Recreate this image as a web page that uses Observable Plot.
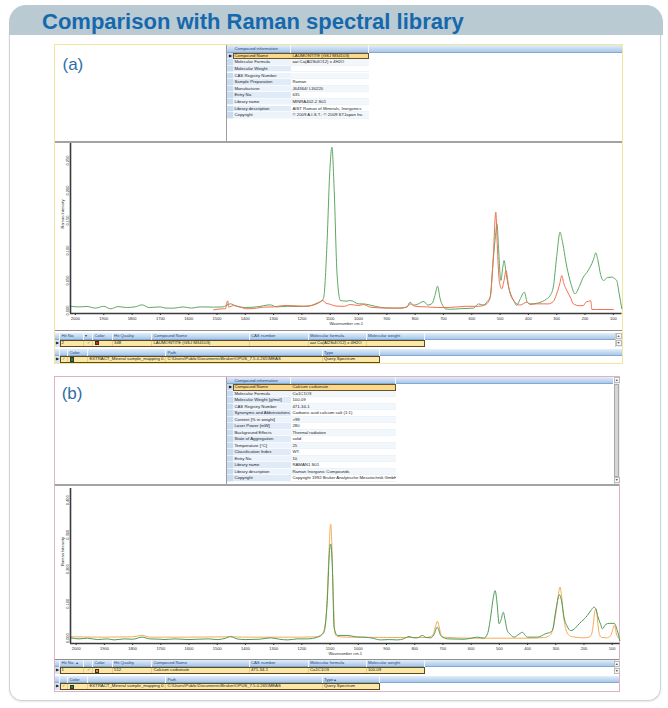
<!DOCTYPE html>
<html><head><meta charset="utf-8">
<script src="https://cdn.jsdelivr.net/npm/d3@7"></script>
<script src="https://cdn.jsdelivr.net/npm/@observablehq/plot@0.6"></script>
<style>
html,body{margin:0;padding:0;background:#fff;}
body{width:668px;height:708px;position:relative;overflow:hidden;font-family:"Liberation Sans",Arial,sans-serif;}
</style></head><body>
<script>
// ---------------- DATA ----------------
const title = "Comparison with Raman spectral library";
const xTicks = [2000,1900,1800,1700,1600,1500,1400,1300,1200,1100,1000,900,800,700,600,500,400,300,200,100];
const yTicksA = [0,0.05,0.10,0.15,0.20,0.25];
const yTicksB = [0,0.1,0.2,0.3,0.4];
const xLabel = "Wavenumber cm-1";
const yLabel = "Raman Intensity";

// (a) query spectrum (green) vs library hit LAUMONTITE (red)  [wavenumber, intensity]
const greenA = [[2018,0.0072],[1990,0.006],[1959,0.0067],[1930,0.004],[1900,0.007],[1876,0.0028],[1850,0.0065],[1820,0.005],[1790,0.006],[1765,0.0094],[1740,0.005],[1700,0.006],[1680,0.004],[1653,0.0039],[1620,0.006],[1590,0.004],[1560,0.006],[1512,0.0056],[1480,0.006],[1453,0.0111],[1430,0.007],[1400,0.005],[1360,0.006],[1312,0.0094],[1290,0.006],[1250,0.007],[1217,0.0067],[1180,0.007],[1147,0.0122],[1130,0.016],[1123,0.0222],[1111,0.1167],[1102,0.2278],[1094,0.2722],[1086,0.2],[1076,0.0611],[1064,0.0167],[1041,0.0156],[1029,0.0167],[1000,0.0111],[982,0.011],[959,0.009],[920,0.005],[880,0.004],[850,0.004],[829,0.006],[818,0.0139],[806,0.009],[794,0.01],[770,0.015],[755,0.009],[740,0.012],[730,0.025],[721,0.0406],[712,0.02],[700,0.006],[694,0.0028],[676,0.002],[640,0.003],[594,0.004],[576,0.011],[560,0.009],[545,0.015],[535,0.0222],[525,0.08],[515,0.13],[511,0.1444],[505,0.10],[500,0.06],[497,0.05],[491,0.07],[486,0.0833],[478,0.06],[464,0.0278],[450,0.015],[441,0.0083],[430,0.018],[414,0.0306],[405,0.015],[394,0.0111],[370,0.012],[350,0.015],[335,0.0194],[323,0.025],[312,0.0389],[300,0.09],[288,0.1306],[282,0.12],[264,0.0722],[250,0.045],[235,0.0278],[220,0.04],[206,0.0556],[194,0.063],[182,0.0722],[170,0.085],[162,0.0961],[155,0.085],[145,0.06],[135,0.05],[120,0.055],[105,0.0556],[95,0.053],[88,0.05],[80,0.03],[70,0.0028]];
const redA = [[1512,0.0011],[1480,0.0028],[1470,0.0028],[1465,0.0139],[1462,0.016],[1459,0.0056],[1441,0.0083],[1420,0.006],[1394,0.0028],[1360,0.004],[1335,0.0056],[1300,0.006],[1265,0.0083],[1230,0.008],[1194,0.0072],[1160,0.009],[1147,0.0111],[1126,0.0167],[1115,0.012],[1106,0.0111],[1076,0.0072],[1050,0.007],[1029,0.01],[1000,0.0083],[982,0.01],[959,0.0056],[900,0.004],[860,0.004],[829,0.0056],[818,0.0111],[800,0.007],[760,0.006],[720,0.005],[680,0.005],[620,0.007],[576,0.007],[550,0.01],[535,0.0222],[525,0.08],[515,0.1639],[510,0.11],[503,0.05],[494,0.0361],[486,0.05],[479,0.0667],[470,0.04],[458,0.0222],[441,0.0111],[430,0.009],[405,0.0139],[394,0.01],[370,0.0111],[330,0.011],[312,0.015],[300,0.0278],[289,0.045],[282,0.0583],[275,0.045],[264,0.0333],[250,0.02],[241,0.0111],[220,0.008],[206,0.0083],[194,0.015],[188,0.015],[182,0.0167],[178,0.012],[176,0.0017],[160,0.0017],[100,0.0017]];

// (b) query spectrum (green) vs library hit Calcium carbonate (orange)
const greenB = [[2020,0.001],[1990,-0.002],[1960,0.0],[1925,-0.004],[1890,-0.002],[1866,-0.005],[1830,-0.002],[1800,-0.003],[1766,0.003],[1740,-0.002],[1700,-0.003],[1689,-0.004],[1650,-0.002],[1600,-0.004],[1571,-0.003],[1530,-0.002],[1500,-0.004],[1470,0.0],[1453,0.005],[1430,-0.002],[1400,-0.004],[1350,-0.003],[1311,0.001],[1280,-0.003],[1250,-0.005],[1216,-0.002],[1180,-0.002],[1145,0.003],[1122,0.017],[1110,0.109],[1102,0.254],[1098,0.273],[1092,0.206],[1086,0.032],[1074,0.008],[1039,0.008],[1010,0.004],[992,0.003],[980,0.003],[950,0.0],[921,-0.005],[890,-0.004],[862,-0.005],[840,-0.002],[820,0.005],[805,0.001],[791,0.001],[773,0.008],[760,0.002],[743,0.001],[732,0.01],[720,0.032],[708,0.008],[690,-0.001],[684,-0.002],[625,-0.003],[600,0.0],[578,0.003],[555,0.0],[542,0.013],[531,0.061],[523,0.11],[515,0.138],[508,0.1],[501,0.042],[495,0.051],[486,0.075],[479,0.05],[472,0.022],[460,0.01],[448,0.003],[430,0.012],[418,0.017],[410,0.01],[401,0.003],[365,0.003],[336,0.013],[318,0.018],[312,0.022],[300,0.08],[287,0.126],[280,0.11],[271,0.061],[260,0.035],[247,0.022],[230,0.03],[217,0.042],[200,0.055],[188,0.066],[176,0.08],[164,0.09],[158,0.085],[152,0.066],[141,0.04],[135,0.027],[123,0.04],[111,0.043],[93,0.043],[82,0.022],[73,-0.007]];
const orangeB = [[2020,0.004],[1900,0.003],[1800,0.004],[1766,0.008],[1740,0.003],[1600,0.003],[1460,0.004],[1400,0.003],[1200,0.003],[1150,0.004],[1130,0.01],[1122,0.022],[1112,0.09],[1106,0.206],[1098,0.331],[1093,0.25],[1090,0.157],[1086,0.06],[1084,0.017],[1074,0.005],[1040,0.003],[900,0.002],[760,0.002],[740,0.006],[732,0.017],[726,0.035],[720,0.049],[714,0.035],[708,0.013],[700,0.003],[600,0.0],[400,0.0],[340,0.002],[325,0.006],[315,0.015],[308,0.035],[300,0.071],[292,0.12],[285,0.148],[279,0.12],[272,0.06],[264,0.025],[255,0.01],[240,0.004],[200,0.001],[180,0.004],[172,0.015],[167,0.04],[163,0.071],[158,0.085],[154,0.07],[150,0.035],[145,0.01],[138,0.002],[120,0.001],[105,0.008],[98,0.025],[93,0.037],[89,0.03],[85,0.012],[80,0.003],[73,-0.003]];

// tables
const infoHeader = "Compound information";
const infoFieldsA = ["Compound Name","Molecular Formula","Molecular Weight","CAS Registry Number","Sample Preparation","Manufacturer","Entry No.","Library name","Library description","Copyright"];
const infoValuesA = ["LAUMONTITE (GSJ M34103)","aat Ca(Al2Si4O12) x 4H2O","","","Raman","J64364/ L30220","635","MINRA402-2.S01","AIST Raman of Minerals, Inorganics","\u00a9 2009 A.I.S.T.; \u00a9 2009 STJapan Inc"];
const infoFieldsB = ["Compound Name","Molecular Formula","Molecular Weight [g/mol]","CAS Registry Number","Synonyms and Abbreviations","Content [% in weight]","Laser Power [mW]","Background Effects","State of Aggregation","Temperature [\u00b0C]","Classification Index","Entry No.","Library name","Library description","Copyright"];
const infoValuesB = ["Calcium carbonate","Ca1C1O3","100.09","471-34-1","Carbonic acid calcium salt (1:1)",">99","280","Thermal radiation","solid","25","WT.","10","RAMAN1.S01","Raman Inorganic Compounds","Copyright 1992 Bruker Analytische Messtechnik GmbH"];
const hitHeaderA = ["Hit No.","\u25be","Color","Hit Quality","Compound Name","CAS number","Molecular formula","Molecular weight"];
const hitHeaderB = ["Hit No.      \u25b4","","Color","Hit Quality","Compound Name","CAS number","Molecular formula","Molecular weight"];
const hitRowA = ["2","\u2713","","348","LAUMONTITE (GSJ M34103)","","aat Ca(Al2Si4O12) x 4H2O",""];
const hitRowB = ["1","\u2713","","512","Calcium carbonate","471-34-1","Ca1C1O3","100.09"];
const hitSwatch = {a:"#e3231c", b:"#f08a1e"};
const pathHeader = ["","Color","","Path","Type"];
const pathRow = ["\u2713","","EXTRACT_Mineral sample_mapping 0...","C:\\Users\\Public\\Documents\\Bruker\\OPUS_7.5.0.265\\MEAS","Query Spectrum"];
const querySwatch = "#17853a";

// ---------------- LAYOUT HELPERS ----------------
function R(x,y,w,h,css,text){
  const e=document.createElement("div");
  e.style.cssText=`position:absolute;box-sizing:border-box;left:${x}px;top:${y}px;width:${w}px;height:${h}px;`+css;
  if(text!=null) e.textContent=text;
  document.body.appendChild(e); return e;
}
const FS = "font-size:4.3px;white-space:nowrap;overflow:hidden;padding-left:1.4px;";
const HEADBG = "background:linear-gradient(#e3eef9,#a9c7ea);border-bottom:0.8px solid #85a9d5;";
function headerBand(x0,x1,y,h,edges,labels){
  R(x0,y,x1-x0,h,HEADBG);
  for(let i=0;i<edges.length-1;i++){
    R(edges[i],y,edges[i+1]-edges[i],h,FS+`line-height:${h}px;color:#23467e;border-right:0.8px solid #f3f8fe;`,labels[i]||"");
  }
}
function scrollbar(x,y,w,h,thumb){
  R(x,y,w,h,"background:#eeeeee;border-left:0.6px solid #ccc;");
  R(x+0.5,y+0.5,w-1,6,"background:#f7f7f7;border:0.5px solid #bbb;font-size:3.5px;line-height:5px;text-align:center;color:#555;","\u25b2");
  R(x+0.5,y+h-6.5,w-1,6,"background:#f7f7f7;border:0.5px solid #bbb;font-size:3.5px;line-height:5px;text-align:center;color:#555;","\u25bc");
  if(thumb) R(x+0.8,y+7,w-1.6,h-14,"background:#d6d6d6;border:0.5px solid #a9a9a9;");
}
function dataRow(edges,y,h,vals,swatchCol,swatch){
  R(edges[0],y,edges[1]-edges[0],h,"background:#d6e4f4;font-size:3.6px;line-height:"+h+"px;text-align:center;color:#111;","\u25b6");
  for(let i=1;i<edges.length-1;i++){
    R(edges[i],y,edges[i+1]-edges[i],h,FS+`line-height:${h}px;background:#fde7a6;color:#1c1c1c;border-right:0.7px solid #e7cd8c;`+(vals[i-1]==="\u2713"?"color:#777;text-align:center;padding-left:0;":""),vals[i-1]);
    if(i-1===swatchCol){R(edges[i]+2,y+1.2,4.2,h-2.4,`background:${swatch};border:0.6px solid #333;`);}
  }
  R(edges[1],y,edges[edges.length-1]-edges[1],h,"border:0.8px solid #5a4a1f;");
}
function infoTable(y,rowH,edges,bandEnd,fields,values,headH){
  R(edges[0],y,bandEnd-edges[0],headH,HEADBG);
  R(edges[1],y,edges[2]-edges[1],headH,FS+`line-height:${headH}px;color:#23467e;border-right:0.8px solid #f3f8fe;`,infoHeader);
  R(edges[2],y,edges[3]-edges[2],headH,"border-right:0.8px solid #f3f8fe;");
  const y0=y+headH;
  fields.forEach((f,i)=>{
    const yy=y0+i*rowH;
    R(edges[0],yy,edges[1]-edges[0],rowH,"background:#c9dbf1;border-bottom:0.5px solid #e8f0fa;font-size:3.6px;line-height:"+rowH+"px;text-align:center;",i===0?"\u25b6":"");
    const sel=i===0;
    R(edges[1],yy,edges[2]-edges[1],rowH,FS+`line-height:${rowH}px;color:#1c1c1c;background:${sel?"#fbd88b":(i%2?"#edf3fb":"#e1eaf7")};border-bottom:0.5px solid #f6f9fd;`,f);
    R(edges[2],yy,edges[3]-edges[2],rowH,FS+`line-height:${rowH}px;color:#1c1c1c;background:${sel?"#fbd88b":(i%2?"#f2f7fc":"#ffffff")};border-bottom:0.5px solid #eef3f9;`,values[i]);
    if(sel) R(edges[1],yy,edges[3]-edges[1],rowH,"border:0.8px solid #6a5524;");
  });
}

// ---------------- CARD ----------------
R(9,30,652,671,"background:#fff;border:1px solid #cad4da;border-top:none;border-radius:0 0 13px 13px;box-shadow:0 1px 2px rgba(0,0,0,0.10);");
R(9,5,654,30,"background:#b9cad3;border-radius:17px 17px 0 0;");
R(42,11,440,22,"font-weight:bold;font-size:22px;line-height:22px;color:#1668ad;white-space:nowrap;",title);

// ---------------- PANEL A ----------------
R(54,44,569,320,"background:#fff;border:1.3px solid #efe6a2;");
R(62.5,56,40,17,"font-size:17px;line-height:17px;color:#2d6ea8;","(a)");
R(225.5,44.5,1.8,97,"background:#9d9d9d;");
R(54.6,140.8,567.6,1.8,"background:#a3a3a3;");
infoTable(44.5,6.6,[227.3,233,291,369],622,infoFieldsA,infoValuesA,8.2);
const chartA = document.createElement("div");
chartA.style.cssText="position:absolute;left:54px;top:142px;width:568px;height:189px;";
document.body.appendChild(chartA);
R(54.6,330.3,567.6,1.2,"background:#8e8e8e;");
const hitEdges=[55,60,84,93,112.7,152,249.5,308.5,366.5,424.5];
headerBand(55,615,332.8,6.8,hitEdges,["",...hitHeaderA]);
dataRow(hitEdges,340,6.6,hitRowA,2,hitSwatch.a);
scrollbar(615,332.8,7,14,false);
const pathEdges=[55,60,68,88,166,322.5,380];
headerBand(55,622,348.8,7,pathEdges,["",...pathHeader]);
dataRow(pathEdges,356.2,6.7,pathRow,1,querySwatch);

// ---------------- PANEL B ----------------
R(54,376,566,316,"background:#fff;border:1.3px solid #dfb2c3;");
R(61.7,385.3,40,17,"font-size:17px;line-height:17px;color:#2d6ea8;","(b)");
R(225.5,376.6,1.8,108,"background:#9d9d9d;");
R(54.6,484.4,564.8,1.8,"background:#a3a3a3;");
infoTable(376.8,6.5,[227.3,233,291,396],613.5,infoFieldsB,infoValuesB,7.6);
scrollbar(613.5,376.8,6.5,107,true);
const chartB = document.createElement("div");
chartB.style.cssText="position:absolute;left:54px;top:486px;width:566px;height:175px;";
document.body.appendChild(chartB);
R(54.6,658.6,564.8,1.2,"background:#8e8e8e;");
headerBand(55,613.5,660.3,6.8,hitEdges,["",...hitHeaderB]);
dataRow(hitEdges,667.4,6.6,hitRowB,2,hitSwatch.b);
scrollbar(613.5,660.3,6.5,14,false);
headerBand(55,619.4,676.2,7,pathEdges,["",...pathHeader.slice(0,4),"Type                          \u25b4"]);
dataRow(pathEdges,683.4,6.7,pathRow,1,querySwatch);

// ---------------- CHARTS ----------------
function spectrum(series,{width,height,mL,mR,mT,mB,xDomain,yDomain,yTicks,labelDy}){
  return Plot.plot({
    width,height,marginLeft:mL,marginRight:mR,marginTop:mT,marginBottom:mB,
    style:{fontFamily:"Liberation Sans, Arial, sans-serif",fontSize:"4px",color:"#2a2a2a",background:"transparent",overflow:"visible"},
    x:{domain:xDomain,axis:null},
    y:{domain:yDomain,axis:null},
    marks:[
      ...series.map(s=>Plot.line(s.data,{x:d=>d[0],y:d=>d[1],stroke:s.color,strokeWidth:1,curve:"monotone-x"})),
      Plot.ruleY([yDomain[0]],{stroke:"#3b3b3b",strokeWidth:1.6}),
      Plot.ruleX([xDomain[0]],{stroke:"#3b3b3b",strokeWidth:1.6}),
      Plot.axisX({ticks:xTicks,tickSize:2,tickPadding:1.3,tickFormat:d3.format("d"),label:null,stroke:"#333"}),
      Plot.axisY({ticks:yTicks,tickSize:0,tickPadding:1.8,tickRotate:-90,tickFormat:d3.format(".3f"),label:null}),
      Plot.text([yLabel],{text:d=>d,frameAnchor:"left",rotate:-90,dx:-7.5,fontSize:4}),
      Plot.text([xLabel],{text:d=>d,frameAnchor:"bottom",dy:labelDy,fontSize:4})
    ]
  });
}
chartA.appendChild(spectrum([{data:greenA,color:"#5da862"},{data:redA,color:"#f36f4f"}],
  {width:568,height:189,mL:16,mR:0.5,mT:1,mB:18,xDomain:[2017.6,69.3],yDomain:[-0.005,0.2783],yTicks:yTicksA,labelDy:11.6}));
chartB.appendChild(spectrum([{data:orangeB,color:"#f6ab58"},{data:greenB,color:"#4f9b56"}],
  {width:566,height:175,mL:16,mR:0.5,mT:2,mB:18,xDomain:[2020.2,72.4],yDomain:[-0.0154,0.4339],yTicks:yTicksB,labelDy:11.4}));
</script>
</body></html>
